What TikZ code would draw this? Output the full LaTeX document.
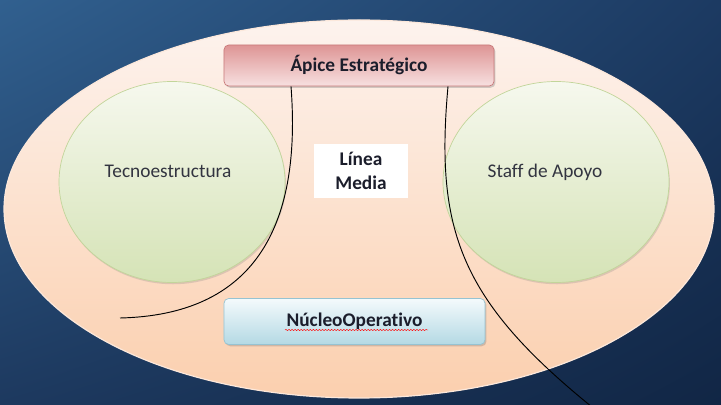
\documentclass[tikz,border=0pt]{standalone}
\usepackage{fontspec}
\setmainfont{Carlito}[Ligatures=NoCommon]
\usetikzlibrary{shapes.geometric,shadows,shadings,decorations.pathmorphing}
\definecolor{fondoA}{HTML}{31608F}
\definecolor{fondoB}{HTML}{1C3A62}
\definecolor{fondoC}{HTML}{1D395F}
\definecolor{fondoD}{HTML}{112645}
\definecolor{melocA}{HTML}{FDF3EE}
\definecolor{melocB}{HTML}{FBCFAE}
\definecolor{verdeA}{HTML}{F6F8EE}
\definecolor{verdeB}{HTML}{D5E3B6}
\definecolor{verdeL}{HTML}{C2D59A}
\definecolor{rojoA}{HTML}{DE9595}
\definecolor{rojoB}{HTML}{F7E0E0}
\definecolor{rojoL}{HTML}{C97A7A}
\definecolor{azulA}{HTML}{F4FAFC}
\definecolor{azulB}{HTML}{B4D9E4}
\definecolor{azulL}{HTML}{96C3D2}
\definecolor{texto}{HTML}{1B1D2B}
\begin{document}
\begin{tikzpicture}[x=0.03cm, y=-0.03cm,
    caja/.style = {draw, rounded corners=4pt, line width=0.6pt, text=texto,
                   font=\fontsize{16.5}{18}\selectfont\bfseries,
                   drop shadow={opacity=0.35, shadow xshift=1.2pt, shadow yshift=-1.5pt}},
    circ/.style = {ellipse, draw=verdeL, line width=0.6pt, top color=verdeA, bottom color=verdeB,
                   minimum width=6.78cm, minimum height=6.03cm,
                   drop shadow={opacity=0.25, shadow xshift=0.8pt, shadow yshift=-1.5pt}},
    txt/.style = {text=texto!90, font=\fontsize{16.5}{18}\selectfont}]
  \useasboundingbox (0,0) rectangle (721,405);
  \shade[upper left=fondoA, upper right=fondoB, lower left=fondoC, lower right=fondoD]
    (0,0) rectangle (721,405);
  % organizacion
  \shade[top color=melocA, bottom color=melocB, draw=melocA!70!melocB, line width=1pt]
    (359,209) ellipse [x radius=355, y radius=189];
  \node[circ] (tecno) at (172,182) {};
  \node[circ] (staff) at (556,182) {};
  \node[txt] (tecnot) at (168,171) {Tecnoestructura};
  \node[txt] (stafft) at (545,172) {Staff de Apoyo};
  \node[caja, draw=rojoL, top color=rojoA, bottom color=rojoB,
        minimum width=8.1cm, minimum height=1.23cm] (apice) at (359,65.5) {Ápice Estratégico};
  \node[caja, draw=azulL, top color=azulA, bottom color=azulB,
        minimum width=7.83cm, minimum height=1.38cm] (nucleo) at (354.5,321.5) {NúcleoOperativo};
  \node[fill=white, text=texto, align=center, minimum width=2.82cm, minimum height=1.62cm,
        font=\fontsize{16.5}{20}\selectfont\bfseries] (linea) at (361,171) {Línea\\Media};
  \draw[red, decorate, decoration={snake, amplitude=0.5pt, segment length=2.6pt}]
    (285,330) -- (428,330);
  % linea media
  \coordinate (fin1) at (120,318);
  \coordinate (fin2) at (592,407);
  \draw[line width=0.8pt] ([xshift=-2.04cm]apice.south) .. controls (302,230) and (252,315) .. (fin1);
  \draw[line width=0.8pt] ([xshift=2.67cm]apice.south) .. controls (435,230) and (460,300) .. (fin2);
\end{tikzpicture}
\end{document}
